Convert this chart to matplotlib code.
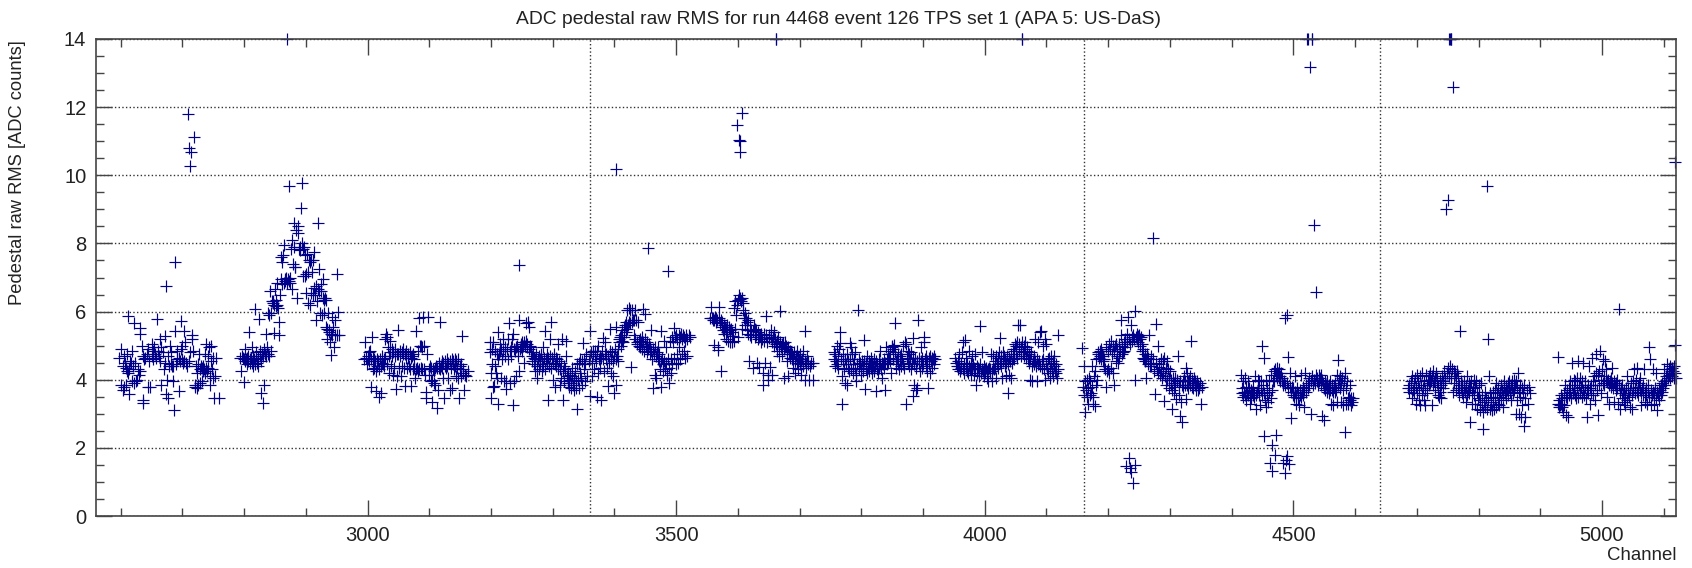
import matplotlib
matplotlib.use('Agg')
import matplotlib.pyplot as plt

plt.rcParams['font.family'] = ['Liberation Sans', 'DejaVu Sans']

# points, one list per block of channels (channel, rms)
block1 = [(2598,4.65),(2600,4.9),(2601,3.85),(2603,4.4),(2604,3.7),(2605,3.8),(2606,4.7),(2607,4.5),(2608,3.85),(2609,4.35),
 (2610,4.75),(2611,4.25),(2612,4.2),(2612,5.86),(2613,4.3),(2614,3.58),(2615,4.55),(2617,4.5),(2618,3.95),(2619,4.85),
 (2620,4.4),(2621,5.66),(2621,3.9),(2623,4.5),(2624,3.95),(2626,4.0),(2628,4.3),(2630,4.15),(2631,5.34),(2632,5.52),
 (2632,4.25),(2634,5.0),(2636,3.39),(2636,3.32),(2636,4.7),(2638,4.6),(2640,4.65),(2642,4.75),(2644,3.8),(2645,4.9),
 (2646,4.55),(2648,3.8),(2650,4.7),(2651,5.05),(2652,4.85),(2653,4.6),(2654,4.95),(2656,4.75),(2658,4.65),(2659,5.77),
 (2660,4.85),(2662,4.7),(2663,5.2),(2664,4.55),(2665,3.85),(2666,4.95),(2668,4.8),(2670,4.3),(2671,5.28),(2672,4.5),
 (2673,6.76),(2674,3.58),(2675,4.0),(2676,4.7),(2677,3.45),(2678,4.4),(2680,5.0),(2681,4.45),(2682,4.8),(2683,4.4),
 (2684,3.95),(2685,4.4),(2687,3.11),(2688,5.44),(2688,7.45),(2689,4.45),(2691,4.6),(2692,4.85),(2694,3.66),(2695,4.65),
 (2696,4.55),(2698,5.73),(2698,4.9),(2699,4.6),(2700,5.0),(2701,4.5),(2702,5.42),(2703,4.55),(2705,5.1),(2706,4.5),
 (2708,4.4),(2709,11.79),(2710,4.55),(2711,10.8),(2712,4.8),(2713,10.27),(2714,10.68),(2715,5.2),(2716,5.3),(2717,4.85),
 (2719,11.11),(2720,3.8),(2721,3.85),(2722,4.4),(2723,3.75),(2724,4.2),(2725,3.85),(2726,4.45),(2727,4.75),(2728,3.9),
 (2729,4.3),(2730,4.4),(2731,3.95),(2732,4.35),(2733,4.25),(2734,4.4),(2735,4.3),(2736,4.75),(2737,4.2),(2738,4.35),
 (2739,5.05),(2740,4.25),(2741,4.7),(2742,4.35),(2743,4.95),(2744,4.1),(2745,3.85),(2746,4.55),(2747,5.0),(2748,4.3),
 (2749,4.05),(2750,4.65),(2751,3.47),(2752,4.1),(2754,4.65),(2759,3.47)]

block2 = [(2793,4.65),(2795,4.25),(2797,4.7),(2798,4.65),(2799,3.94),(2800,4.6),(2801,4.55),(2802,4.9),(2803,4.6),(2804,4.65),
 (2805,4.45),(2806,4.7),(2807,4.55),(2808,5.4),(2809,4.6),(2810,4.5),(2811,4.65),(2812,4.95),(2813,4.5),(2814,4.7),
 (2815,4.4),(2816,4.6),(2817,4.45),(2818,6.07),(2819,4.7),(2820,4.8),(2821,4.5),(2822,4.65),(2823,4.4),(2824,5.78),
 (2825,4.85),(2826,4.7),(2827,4.55),(2828,3.6),(2829,4.75),(2830,4.7),(2831,3.32),(2832,4.9),(2833,3.85),(2834,4.75),
 (2835,5.33),(2836,4.7),(2837,4.95),(2838,4.75),(2839,5.95),(2840,4.7),(2841,5.9),(2842,6.6),(2843,5.95),(2844,4.85),
 (2845,6.3),(2846,6.25),(2847,6.3),(2848,6.2),(2849,5.38),(2850,6.65),(2851,6.15),(2852,6.35),(2853,6.2),(2854,6.85),
 (2855,6.1),(2856,5.7),(2857,5.3),(2858,6.5),(2859,7.6),(2860,6.95),(2861,7.45),(2862,6.8),(2863,7.65),(2864,6.85),
 (2865,7.95),(2866,6.95),(2867,6.9),(2868,7.0),(2869,6.85),(2870,14.0),(2871,6.95),(2872,6.9),(2873,9.68),(2874,7.0),
 (2875,6.85),(2876,7.85),(2877,8.1),(2878,6.65),(2879,7.4),(2880,7.9),(2881,8.6),(2882,7.3),(2883,7.3),(2884,8.4),
 (2885,6.4),(2887,8.5),(2888,8.3),(2889,7.85),(2890,7.9),(2891,7.8),(2892,9.05),(2893,9.78),(2894,8.0),(2895,7.05),
 (2896,7.85),(2897,7.9),(2898,7.65),(2899,7.05),(2900,6.55),(2901,7.1),(2902,7.7),(2903,6.25),(2904,7.15),(2905,7.5),
 (2906,6.2),(2907,7.45),(2908,7.5),(2909,6.55),(2910,7.15),(2911,6.5),(2912,7.5),(2913,6.7),(2914,7.75),(2915,6.5),
 (2916,5.75),(2917,6.75),(2918,6.3),(2919,8.6),(2920,6.65),(2921,7.25),(2922,6.6),(2923,5.95),(2924,6.8),(2925,6.6),
 (2926,5.9),(2927,6.4),(2928,6.95),(2929,6.35),(2930,5.95),(2931,6.4),(2932,5.55),(2933,6.35),(2934,5.2),(2935,5.5),
 (2936,5.95),(2937,5.45),(2938,5.4),(2939,5.1),(2940,5.35),(2941,4.72),(2942,5.85),(2943,5.3),(2944,5.55),(2945,4.95),
 (2947,5.3),(2948,5.75),(2950,5.3),(2951,7.1),(2952,5.98),(2954,5.3)]

block3 = [(2995,4.6),(2996,5.1),(2997,4.65),(2999,4.45),(3000,4.7),(3001,4.6),(3002,4.8),(3003,4.55),(3004,4.85),(3005,4.6),
 (3006,3.8),(3007,5.25),(3008,4.65),(3009,4.3),(3010,4.6),(3011,4.35),(3012,4.55),(3013,4.25),(3014,3.68),(3015,4.6),
 (3016,4.4),(3017,4.55),(3018,4.3),(3019,3.48),(3020,4.6),(3021,4.4),(3022,3.6),(3023,4.5),(3024,4.7),(3025,4.45),
 (3026,4.6),(3027,4.4),(3028,5.2),(3029,4.65),(3030,5.35),(3031,5.25),(3032,4.45),(3033,4.95),(3034,4.7),(3035,4.2),
 (3036,5.15),(3037,4.8),(3038,4.4),(3039,4.9),(3040,4.7),(3041,4.15),(3042,4.8),(3043,4.35),(3044,4.7),(3045,4.9),
 (3046,3.73),(3047,4.75),(3048,4.1),(3049,5.47),(3050,4.75),(3051,4.35),(3052,4.85),(3053,4.7),(3054,4.1),(3055,4.8),
 (3056,4.4),(3057,4.9),(3058,4.75),(3059,4.35),(3060,3.82),(3061,4.75),(3062,4.65),(3063,4.85),(3064,4.35),(3065,4.75),
 (3066,4.65),(3067,4.4),(3068,4.8),(3069,4.3),(3070,4.65),(3071,3.82),(3072,4.7),(3073,4.3),(3074,4.75),(3075,4.35),
 (3076,4.6),(3077,4.05),(3078,4.3),(3079,5.42),(3080,4.35),(3081,4.25),(3082,4.85),(3083,5.8),(3084,4.3),(3085,5.0),
 (3086,4.35),(3087,5.0),(3088,4.3),(3089,4.95),(3090,5.84),(3091,4.3),(3092,5.0),(3093,4.15),(3094,3.64),(3094,3.46),
 (3096,4.75),(3098,5.84),(3099,4.3),(3100,4.15),(3101,4.4),(3102,3.95),(3103,4.35),(3104,4.0),(3105,3.35),(3106,4.3),
 (3107,3.9),(3108,4.25),(3109,4.35),(3110,3.85),(3111,4.4),(3112,3.16),(3113,4.35),(3114,3.7),(3115,4.35),(3116,4.5),
 (3117,4.3),(3118,5.69),(3119,4.4),(3120,4.55),(3121,4.35),(3122,4.05),(3123,4.5),(3124,3.45),(3125,4.4),(3126,4.55),
 (3127,4.35),(3128,4.6),(3129,4.4),(3130,4.05),(3131,4.5),(3133,3.69),(3134,4.55),(3135,4.35),(3136,3.75),(3137,4.6),
 (3138,4.45),(3139,4.55),(3140,4.3),(3141,4.6),(3142,4.4),(3143,4.1),(3144,4.55),(3145,4.35),(3146,4.6),(3147,4.05),
 (3148,3.47),(3149,4.3),(3150,4.4),(3151,4.1),(3152,4.45),(3153,5.28),(3154,4.2),(3155,4.3),(3157,3.69),(3158,4.15),
 (3160,4.1),(3162,4.25)]

block4 = [(3198,5.1),(3199,4.8),(3200,4.2),(3200,3.45),(3201,4.9),(3202,4.45),(3203,3.8),(3204,5.1),(3205,3.82),(3206,4.4),
 (3207,4.85),(3208,4.2),(3209,4.05),(3210,4.75),(3211,5.4),(3211,3.3),(3212,4.6),(3213,4.75),(3214,5.05),(3215,4.85),
 (3216,4.05),(3217,4.9),(3218,4.6),(3219,5.2),(3220,4.85),(3221,3.95),(3222,4.95),(3223,4.7),(3224,3.95),(3225,3.74),
 (3226,4.9),(3227,4.6),(3228,5.2),(3229,5.65),(3230,4.85),(3231,3.9),(3232,4.95),(3233,4.7),(3234,5.2),(3236,5.33),
 (3236,3.26),(3237,4.9),(3238,3.95),(3239,4.85),(3240,4.1),(3241,4.95),(3242,5.0),(3243,4.7),(3244,4.85),(3245,4.25),
 (3246,7.37),(3246,5.76),(3247,4.9),(3248,5.05),(3249,4.95),(3250,5.1),(3251,4.85),(3252,5.0),(3253,4.5),(3254,5.1),
 (3255,5.0),(3256,5.65),(3257,5.15),(3258,4.95),(3259,5.05),(3260,5.69),(3261,4.9),(3262,5.55),(3263,5.0),(3264,4.8),
 (3265,4.95),(3266,4.7),(3267,4.55),(3268,4.8),(3269,4.45),(3270,4.65),(3271,4.25),(3272,4.6),(3273,4.75),(3274,4.4),
 (3275,4.05),(3276,4.6),(3277,4.3),(3278,4.7),(3279,4.45),(3280,4.6),(3281,4.75),(3282,4.25),(3283,4.55),(3284,4.95),
 (3285,4.4),(3286,4.65),(3287,5.44),(3288,4.3),(3289,4.6),(3290,4.75),(3291,4.5),(3292,3.4),(3293,4.65),(3294,4.4),
 (3295,5.2),(3296,4.7),(3297,4.35),(3298,5.7),(3299,4.65),(3300,4.5),(3301,4.0),(3302,4.75),(3303,4.45),(3304,3.8),
 (3305,4.65),(3306,4.4),(3307,4.6),(3308,5.05),(3309,4.3),(3310,4.55),(3311,3.85),(3312,4.3),(3313,4.5),(3314,4.05),
 (3315,5.2),(3316,4.25),(3317,3.4),(3318,4.4),(3319,3.95),(3320,4.3),(3321,4.7),(3322,5.13),(3323,4.1),(3324,3.9),
 (3325,4.2),(3326,4.0),(3327,3.8),(3328,4.15),(3329,3.9),(3330,3.75),(3331,4.1),(3332,4.35),(3333,3.85),(3334,4.05),
 (3335,3.7),(3336,4.25),(3337,3.95),(3338,3.75),(3339,4.45),(3340,3.14),(3341,4.0),(3342,4.5),(3343,3.75),(3344,4.2),
 (3345,4.6),(3346,4.05),(3347,4.55),(3348,3.85),(3349,5.07),(3350,4.3),(3351,4.6),(3352,3.95),(3353,4.45),(3354,4.75),
 (3356,4.1),(3358,4.55)]

block5 = [(3360,4.7),(3361,5.42),(3361,3.53),(3362,4.8),(3363,4.5),(3364,4.1),(3365,4.75),(3366,4.85),(3367,4.3),(3368,4.7),
 (3369,4.85),(3370,4.55),(3371,3.48),(3372,4.85),(3373,4.2),(3374,5.0),(3375,4.6),(3376,4.7),(3377,4.35),(3378,3.4),
 (3379,4.65),(3380,4.85),(3381,5.23),(3382,4.6),(3383,4.25),(3384,4.75),(3385,5.1),(3386,4.6),(3387,4.75),(3388,4.35),
 (3389,3.82),(3390,4.7),(3391,4.5),(3392,5.5),(3393,4.85),(3394,4.2),(3395,4.6),(3396,4.8),(3397,4.1),(3398,4.55),
 (3399,4.7),(3400,3.6),(3401,4.9),(3402,4.6),(3403,10.17),(3403,5.55),(3403,3.85),(3404,4.7),(3405,4.55),(3406,4.9),
 (3407,5.2),(3408,5.1),(3409,5.25),(3410,5.0),(3411,5.3),(3412,5.15),(3413,5.45),(3414,5.1),(3415,5.55),(3416,5.25),
 (3417,5.6),(3418,5.4),(3419,5.7),(3420,5.5),(3421,6.05),(3422,5.6),(3423,6.1),(3424,5.7),(3425,6.05),(3426,5.65),
 (3427,4.36),(3428,6.05),(3429,5.7),(3430,5.75),(3431,5.3),(3432,5.75),(3433,6.05),(3434,5.2),(3435,5.75),(3436,5.1),
 (3437,5.05),(3438,5.7),(3439,5.15),(3440,5.0),(3441,5.2),(3442,4.95),(3443,5.1),(3444,5.25),(3445,4.9),(3446,6.08),
 (3447,5.1),(3448,4.85),(3449,5.92),(3450,5.2),(3451,5.0),(3452,4.8),(3453,5.1),(3454,7.87),(3455,4.9),(3456,5.05),
 (3457,4.75),(3458,4.95),(3459,4.85),(3460,5.47),(3461,4.6),(3462,3.77),(3463,4.9),(3464,4.75),(3465,4.15),(3466,4.95),
 (3467,4.7),(3468,4.05),(3469,4.8),(3470,4.6),(3471,4.95),(3472,4.55),(3473,4.75),(3474,4.3),(3475,4.55),(3476,5.44),
 (3476,3.8),(3477,4.65),(3478,4.45),(3479,4.25),(3480,5.15),(3481,4.55),(3482,4.3),(3483,4.95),(3484,4.5),(3485,4.15),
 (3486,7.2),(3487,4.6),(3488,4.35),(3489,3.9),(3490,5.15),(3491,4.6),(3492,4.2),(3493,5.25),(3494,4.45),(3495,5.1),
 (3496,4.65),(3497,5.52),(3498,5.25),(3499,4.45),(3500,5.3),(3501,4.75),(3502,5.2),(3503,4.5),(3504,5.3),(3505,4.95),
 (3506,5.25),(3507,4.6),(3508,5.35),(3509,4.75),(3510,5.2),(3511,5.3),(3512,4.85),(3513,5.25),(3514,5.15),(3515,4.65),
 (3516,5.3),(3517,5.2),(3518,4.7),(3520,5.3),(3522,5.25)]

block6 = [(3555,5.8),(3557,6.13),(3558,5.8),(3559,5.75),(3560,5.8),(3561,5.02),(3562,5.75),(3563,5.85),(3564,5.7),(3565,5.8),
 (3566,5.75),(3567,4.95),(3568,4.86),(3569,6.13),(3570,5.8),(3571,5.65),(3572,5.75),(3573,4.27),(3574,5.55),(3575,5.7),
 (3576,5.45),(3577,5.6),(3578,5.35),(3579,5.55),(3580,5.2),(3581,5.5),(3582,5.6),(3583,5.4),(3584,5.15),(3585,5.5),
 (3586,5.55),(3587,5.1),(3588,5.45),(3589,5.5),(3590,5.1),(3591,5.4),(3592,5.28),(3593,6.1),(3594,5.15),(3595,6.3),
 (3596,5.5),(3597,5.9),(3598,11.48),(3599,6.2),(3600,5.25),(3601,6.35),(3602,6.5),(3602,11.05),(3603,6.37),(3603,11.0),
 (3604,10.68),(3604,6.4),(3605,6.3),(3606,6.4),(3607,11.82),(3607,5.5),(3608,6.25),(3609,6.05),(3610,5.8),(3611,5.95),
 (3612,5.6),(3613,5.8),(3614,5.45),(3615,5.7),(3616,5.35),(3617,5.75),(3618,4.55),(3619,5.6),(3620,5.3),(3621,5.45),
 (3622,5.25),(3624,5.44),(3625,4.35),(3626,5.6),(3627,5.25),(3628,5.5),(3629,5.3),(3630,5.45),(3631,4.5),(3632,5.2),
 (3633,5.4),(3634,5.25),(3635,4.38),(3636,5.3),(3637,5.1),(3638,5.35),(3639,5.2),(3640,4.2),(3641,3.85),(3642,5.35),
 (3643,5.15),(3644,4.5),(3645,5.3),(3646,5.87),(3647,5.1),(3648,4.15),(3649,4.0),(3650,5.3),(3651,5.23),(3652,4.38),
 (3653,5.25),(3654,5.45),(3655,5.1),(3656,4.15),(3657,5.25),(3658,5.4),(3659,5.0),(3660,5.2),(3661,14.0),(3662,5.05),
 (3663,4.85),(3664,5.15),(3665,5.25),(3666,4.95),(3667,4.7),(3668,6.03),(3669,5.1),(3670,4.95),(3671,5.05),(3672,4.75),
 (3673,5.07),(3674,4.9),(3675,4.05),(3676,5.1),(3677,4.95),(3678,5.0),(3679,4.85),(3680,4.55),(3681,4.11),(3682,4.95),
 (3683,4.75),(3684,4.85),(3685,4.65),(3686,4.8),(3687,4.6),(3688,4.75),(3689,4.35),(3690,4.65),(3691,4.8),(3692,4.55),
 (3693,4.2),(3694,4.7),(3695,4.85),(3696,4.5),(3697,4.65),(3698,4.3),(3699,4.6),(3700,4.75),(3701,4.45),(3702,4.55),
 (3703,4.15),(3704,4.6),(3705,4.4),(3706,4.85),(3708,5.44),(3708,4.0),(3709,4.55),(3710,4.35),(3711,4.5),(3712,4.7),
 (3713,4.45),(3714,4.55),(3716,4.0),(3717,4.4),(3719,4.5),(3721,4.0),(3722,4.5)]

block7 = [(3755,4.6),(3756,4.8),(3757,4.4),(3758,4.75),(3759,4.55),(3760,5.0),(3761,4.45),(3762,4.7),(3763,4.35),(3764,4.9),
 (3765,5.07),(3766,5.39),(3767,4.6),(3768,4.1),(3769,3.3),(3770,4.55),(3771,4.75),(3772,4.3),(3773,3.9),(3774,4.6),
 (3775,4.45),(3776,3.85),(3777,4.75),(3778,4.35),(3779,4.55),(3780,4.25),(3781,5.07),(3782,4.6),(3783,4.95),(3784,4.3),
 (3785,4.75),(3786,4.45),(3787,4.2),(3788,4.6),(3789,4.35),(3790,4.8),(3791,4.15),(3792,3.95),(3793,4.45),(3795,6.05),
 (3796,4.6),(3797,4.3),(3798,4.5),(3799,4.15),(3800,4.35),(3801,4.55),(3802,4.25),(3803,4.4),(3804,5.18),(3805,4.55),
 (3806,3.74),(3807,4.3),(3808,4.5),(3809,4.2),(3810,4.7),(3811,4.35),(3812,4.55),(3813,4.25),(3814,4.45),(3815,4.65),
 (3816,4.35),(3817,4.5),(3818,4.2),(3819,4.4),(3820,4.6),(3821,4.25),(3822,4.4),(3823,4.55),(3824,3.66),(3825,4.3),
 (3826,4.45),(3827,4.2),(3828,4.6),(3829,4.35),(3830,4.45),(3831,4.85),(3832,4.3),(3833,4.5),(3834,4.05),(3835,4.45),
 (3836,4.6),(3837,4.35),(3838,3.69),(3839,4.5),(3840,4.95),(3841,4.45),(3842,4.6),(3843,4.75),(3844,4.5),(3845,4.65),
 (3846,4.85),(3847,4.55),(3848,4.2),(3849,4.95),(3850,5.0),(3851,4.6),(3852,4.9),(3853,5.02),(3854,5.66),(3855,4.8),
 (3856,4.55),(3857,4.35),(3858,4.6),(3859,4.75),(3860,4.45),(3861,4.3),(3862,4.7),(3863,4.55),(3864,4.4),(3865,4.75),
 (3866,4.6),(3867,4.45),(3868,5.0),(3869,4.35),(3870,5.12),(3872,3.3),(3873,5.05),(3874,4.65),(3875,4.85),(3876,4.5),
 (3877,4.75),(3878,4.4),(3879,4.6),(3880,4.3),(3881,4.8),(3882,4.5),(3883,4.65),(3884,5.23),(3884,3.53),(3885,4.45),
 (3886,3.85),(3887,4.65),(3888,3.7),(3889,4.35),(3890,4.55),(3891,3.75),(3892,5.76),(3893,4.45),(3894,4.65),(3895,4.25),
 (3896,4.55),(3897,4.95),(3898,4.35),(3899,4.65),(3900,4.45),(3901,5.1),(3902,5.26),(3903,4.6),(3904,4.4),(3905,4.7),
 (3906,4.25),(3907,4.55),(3908,3.76),(3909,4.65),(3910,4.45),(3911,4.7),(3912,4.2),(3913,4.55),(3914,4.65),(3915,4.35),
 (3916,4.6),(3917,4.7),(3918,4.45),(3920,4.6)]

block8 = [(3952,4.65),(3954,4.5),(3955,4.4),(3956,4.55),(3957,4.3),(3958,4.75),(3959,4.4),(3960,4.25),(3961,4.5),(3962,4.35),
 (3963,4.8),(3964,4.3),(3965,5.12),(3966,4.45),(3967,4.2),(3968,5.18),(3969,4.35),(3970,4.65),(3971,4.25),(3972,4.5),
 (3973,4.2),(3974,4.4),(3975,4.85),(3976,4.3),(3977,4.15),(3978,4.5),(3979,4.7),(3980,4.3),(3981,4.45),(3982,4.15),
 (3983,4.35),(3984,4.75),(3985,4.3),(3986,3.85),(3987,4.4),(3988,4.2),(3989,4.35),(3990,4.1),(3991,4.3),(3992,5.58),
 (3993,4.45),(3994,4.2),(3995,4.3),(3996,4.8),(3997,4.25),(3998,4.4),(3999,4.1),(4000,4.3),(4001,4.2),(4002,4.35),
 (4003,4.05),(4004,4.25),(4005,4.3),(4006,3.95),(4007,4.35),(4008,4.2),(4009,4.3),(4010,4.75),(4011,4.25),(4012,3.95),
 (4013,4.35),(4014,4.7),(4015,4.3),(4016,4.55),(4017,4.35),(4018,4.05),(4019,4.7),(4020,4.45),(4021,4.65),(4022,4.35),
 (4023,4.8),(4024,5.22),(4025,4.5),(4026,4.7),(4027,4.4),(4028,4.05),(4029,4.8),(4030,4.55),(4031,4.7),(4032,4.4),
 (4033,4.6),(4034,4.1),(4035,4.5),(4036,4.7),(4037,3.61),(4038,4.45),(4039,4.65),(4040,4.15),(4041,4.55),(4042,4.75),
 (4043,4.05),(4044,4.5),(4045,4.9),(4046,4.65),(4047,4.85),(4048,4.6),(4049,5.05),(4050,4.75),(4051,5.0),(4052,4.65),
 (4053,5.1),(4054,5.6),(4055,4.85),(4056,5.05),(4057,5.62),(4058,4.7),(4059,4.95),(4060,14.0),(4061,5.1),(4062,4.8),
 (4063,5.0),(4064,4.7),(4065,4.9),(4066,5.1),(4067,4.65),(4068,4.85),(4069,4.95),(4070,4.6),(4071,4.75),(4072,4.5),
 (4073,4.0),(4074,4.6),(4075,4.8),(4076,4.4),(4077,3.95),(4078,4.55),(4079,4.7),(4080,4.45),(4081,5.2),(4082,4.55),
 (4083,4.4),(4084,3.95),(4085,4.6),(4086,4.45),(4087,5.1),(4088,4.55),(4089,5.39),(4090,4.4),(4091,5.42),(4092,4.55),
 (4093,4.35),(4094,5.0),(4095,4.6),(4096,4.3),(4097,4.0),(4098,5.2),(4099,4.45),(4100,5.05),(4101,4.3),(4102,4.6),
 (4103,4.2),(4104,4.65),(4105,4.35),(4106,4.05),(4107,4.5),(4108,4.7),(4109,4.25),(4110,4.55),(4111,4.1),(4112,4.4),
 (4113,4.7),(4114,4.25),(4115,4.45),(4116,4.2),(4117,4.05),(4118,5.3),(4119,4.3)]

block9 = [(4158,4.93),(4159,3.8),(4160,4.4),(4161,3.55),(4162,3.05),(4163,3.95),(4164,3.7),(4165,4.0),(4166,3.5),(4167,3.3),
 (4168,3.75),(4169,4.05),(4170,3.55),(4171,3.95),(4172,3.6),(4173,3.8),(4174,4.4),(4175,3.5),(4176,3.3),(4177,4.1),
 (4178,3.23),(4179,4.25),(4180,3.85),(4181,4.6),(4182,4.0),(4183,4.8),(4184,4.75),(4185,4.65),(4186,4.7),(4187,4.85),
 (4188,4.6),(4189,4.9),(4190,4.75),(4191,4.55),(4192,4.7),(4193,4.4),(4194,4.6),(4195,4.3),(4196,4.95),(4197,3.8),
 (4198,4.25),(4199,4.85),(4200,4.3),(4201,5.05),(4202,4.2),(4203,4.9),(4204,4.35),(4205,5.15),(4206,4.75),(4207,5.0),
 (4208,4.2),(4209,3.85),(4210,4.85),(4211,5.0),(4212,4.55),(4213,5.05),(4214,4.7),(4215,4.9),(4216,4.5),(4217,5.05),
 (4218,4.65),(4219,4.85),(4220,5.3),(4221,5.74),(4222,4.75),(4223,5.0),(4224,4.8),(4225,5.1),(4226,4.85),(4227,5.2),
 (4228,4.95),(4229,1.46),(4230,5.1),(4231,5.35),(4232,5.84),(4233,1.7),(4234,5.2),(4235,5.05),(4236,1.4),(4237,1.3),
 (4237,5.6),(4238,5.25),(4239,5.15),(4240,0.96),(4241,5.3),(4242,5.2),(4243,1.49),(4244,6.03),(4244,4.0),(4245,5.25),
 (4246,5.35),(4247,5.2),(4248,5.28),(4249,5.1),(4250,5.3),(4251,5.2),(4252,5.0),(4253,5.25),(4254,4.85),(4255,5.05),
 (4256,4.65),(4257,4.9),(4258,4.6),(4259,4.75),(4260,4.55),(4261,4.05),(4262,4.6),(4263,4.75),(4264,4.45),(4265,4.65),
 (4266,5.3),(4267,4.5),(4268,4.4),(4269,4.7),(4270,4.4),(4272,8.17),(4273,4.6),(4274,4.25),(4276,3.58),(4277,5.63),
 (4278,4.5),(4279,4.3),(4280,5.0),(4281,4.2),(4282,4.45),(4283,4.38),(4284,4.15),(4285,4.6),(4286,4.25),(4287,4.05),
 (4288,4.55),(4289,4.2),(4290,4.65),(4291,3.37),(4292,4.1),(4293,4.35),(4294,3.85),(4295,4.55),(4296,4.0),(4297,4.3),
 (4298,3.75),(4299,4.05),(4300,4.25),(4301,3.85),(4302,4.0),(4303,3.7),(4304,3.13),(4305,4.05),(4306,3.9),(4307,3.6),
 (4308,4.05),(4309,3.8),(4310,3.42),(4311,3.95),(4312,4.0),(4313,4.7),(4314,3.85),(4315,3.55),(4316,2.94),(4317,3.95),
 (4318,3.35),(4319,3.85),(4320,2.75),(4321,3.95),(4322,3.8),(4323,4.1),(4324,3.85),(4325,3.95),(4326,4.33),(4326,3.44),
 (4327,3.85),(4328,4.2),(4329,3.95),(4330,3.75),(4331,4.0),(4332,3.85),(4333,4.1),(4334,5.15),(4335,3.8),(4336,4.0),
 (4337,3.9),(4338,3.75),(4339,4.05),(4340,3.85),(4341,3.95),(4342,3.7),(4343,3.85),(4344,3.95),(4345,3.7),(4346,3.85),
 (4347,3.75),(4348,3.9),(4351,3.28),(4352,3.8)]

block10 = [(4415,4.15),(4416,3.75),(4417,3.6),(4418,3.95),(4419,3.5),(4420,3.65),(4421,4.05),(4422,3.55),(4423,3.8),(4424,3.4),
 (4425,3.6),(4426,3.95),(4427,3.55),(4428,3.75),(4429,3.3),(4430,3.55),(4431,3.7),(4432,3.45),(4433,3.65),(4434,3.55),
 (4435,3.8),(4436,3.6),(4437,3.5),(4438,4.1),(4439,3.55),(4440,3.15),(4441,3.65),(4442,4.0),(4443,3.75),(4444,3.55),
 (4445,3.95),(4446,3.25),(4447,3.7),(4448,3.95),(4449,3.55),(4450,4.98),(4451,3.85),(4452,2.34),(4452,4.63),(4453,3.6),
 (4454,3.4),(4455,3.95),(4456,3.2),(4457,3.55),(4458,3.75),(4459,3.35),(4460,3.65),(4461,4.0),(4462,1.56),(4463,3.45),
 (4464,4.15),(4465,3.7),(4466,2.07),(4466,1.32),(4467,3.95),(4468,4.25),(4469,3.95),(4470,1.78),(4471,4.3),(4472,2.39),
 (4472,4.15),(4473,4.05),(4474,4.35),(4475,4.2),(4476,4.05),(4477,4.3),(4478,4.1),(4479,3.95),(4480,4.2),(4481,4.05),
 (4482,3.95),(4483,1.56),(4484,3.85),(4485,3.95),(4486,1.25),(4486,5.8),(4487,3.85),(4488,1.65),(4489,1.76),(4489,3.9),
 (4490,5.9),(4491,3.75),(4492,4.68),(4493,1.54),(4494,3.8),(4495,4.2),(4496,3.65),(4497,2.88),(4498,3.8),(4499,3.55),
 (4500,3.75),(4501,3.5),(4502,4.1),(4503,3.65),(4504,3.3),(4505,3.55),(4506,3.75),(4507,3.45),(4508,3.6),(4509,3.25),
 (4510,3.55),(4511,3.7),(4512,4.15),(4513,3.5),(4514,3.65),(4515,3.8),(4516,3.55),(4517,3.2),(4518,3.7),(4519,4.2),
 (4520,3.85),(4521,3.65),(4522,14.0),(4523,3.9),(4524,3.75),(4525,4.05),(4526,3.85),(4527,13.17),(4528,3.0),(4529,3.95),
 (4530,14.0),(4531,4.1),(4532,3.85),(4533,4.0),(4534,8.54),(4535,3.9),(4536,4.15),(4537,6.57),(4538,3.95),(4539,4.05),
 (4540,3.85),(4541,4.15),(4542,3.95),(4543,4.05),(4544,4.15),(4545,3.85),(4546,2.93),(4547,4.0),(4548,3.9),(4549,2.83),
 (4550,3.75),(4551,3.95),(4552,3.7),(4553,3.85),(4554,3.65),(4555,3.95),(4556,3.75),(4557,3.6),(4558,3.85),(4559,3.7),
 (4560,3.95),(4561,3.3),(4562,3.7),(4563,3.85),(4564,3.65),(4565,3.25),(4566,3.8),(4567,3.65),(4568,3.9),(4569,3.7),
 (4570,3.35),(4571,4.15),(4572,4.57),(4573,3.85),(4574,4.0),(4575,3.75),(4576,4.1),(4577,3.35),(4578,3.9),(4579,4.05),
 (4580,3.7),(4581,3.25),(4582,3.95),(4583,4.2),(4584,2.47),(4585,3.75),(4586,3.3),(4587,3.95),(4588,3.45),(4589,3.3),
 (4590,3.5),(4591,3.85),(4592,3.4),(4593,3.25),(4594,3.45),(4595,3.35),(4597,3.45)]

block11 = [(4685,3.75),(4687,3.85),(4688,3.65),(4690,3.95),(4691,3.75),(4692,3.45),(4693,4.1),(4694,3.7),(4695,3.9),(4696,3.6),
 (4697,4.05),(4698,3.3),(4699,3.8),(4700,4.15),(4701,3.6),(4702,3.95),(4703,3.4),(4704,3.75),(4705,4.1),(4706,3.25),
 (4707,3.85),(4708,3.55),(4709,4.2),(4710,3.75),(4711,3.4),(4712,3.95),(4713,3.25),(4714,3.7),(4715,4.15),(4716,3.85),
 (4717,3.6),(4718,4.0),(4719,4.1),(4720,3.85),(4721,4.2),(4722,3.9),(4723,3.95),(4724,3.25),(4725,4.1),(4726,3.85),
 (4727,4.25),(4728,3.95),(4729,4.05),(4730,3.7),(4731,4.2),(4732,3.9),(4733,4.05),(4734,3.55),(4735,3.8),(4736,3.5),
 (4737,4.0),(4738,3.65),(4739,3.45),(4740,3.85),(4741,4.1),(4742,3.75),(4743,3.95),(4744,4.25),(4745,3.9),(4746,4.05),
 (4748,9.0),(4749,4.2),(4750,9.27),(4751,4.35),(4752,4.1),(4753,14.0),(4754,4.4),(4755,14.0),(4756,4.05),(4757,4.3),
 (4758,12.6),(4759,3.65),(4760,4.25),(4761,3.9),(4762,4.2),(4763,3.7),(4764,4.05),(4765,4.25),(4766,3.75),(4767,4.1),
 (4768,3.85),(4769,3.55),(4770,5.42),(4771,3.75),(4772,3.95),(4773,3.6),(4774,3.85),(4775,3.5),(4776,3.75),(4777,3.95),
 (4778,3.65),(4779,3.35),(4780,3.8),(4781,3.55),(4782,4.1),(4783,3.7),(4784,3.9),(4785,3.6),(4786,2.75),(4787,3.8),
 (4788,3.95),(4789,3.65),(4790,3.3),(4791,3.75),(4792,4.0),(4793,3.55),(4794,3.8),(4795,3.3),(4796,3.95),(4797,3.65),
 (4798,3.15),(4799,3.45),(4800,3.85),(4801,3.55),(4802,3.1),(4803,3.4),(4804,3.9),(4805,3.25),(4806,3.55),(4807,3.05),
 (4808,2.55),(4809,3.35),(4810,3.65),(4811,3.2),(4812,3.45),(4813,9.68),(4814,3.15),(4815,5.2),(4816,3.4),(4817,4.1),
 (4818,3.15),(4819,3.6),(4820,3.25),(4821,3.5),(4822,3.1),(4823,3.65),(4824,3.35),(4825,3.15),(4826,3.7),(4827,3.45),
 (4828,3.9),(4829,3.2),(4830,3.6),(4831,3.3),(4832,3.75),(4833,3.5),(4834,3.25),(4835,3.65),(4836,3.85),(4837,3.4),
 (4838,3.7),(4839,3.55),(4840,3.2),(4841,3.75),(4842,3.95),(4843,3.6),(4844,3.8),(4845,3.45),(4846,3.7),(4847,3.9),
 (4848,3.55),(4849,3.8),(4850,3.95),(4851,3.65),(4852,3.85),(4853,3.4),(4854,3.75),(4855,3.95),(4856,3.6),(4857,4.0),
 (4858,3.7),(4859,3.85),(4860,3.95),(4861,3.0),(4862,3.8),(4863,3.4),(4864,4.2),(4865,3.65),(4866,3.0),(4867,3.85),
 (4868,3.5),(4869,2.9),(4870,3.75),(4871,3.25),(4872,3.6),(4873,2.65),(4874,3.85),(4875,3.45),(4876,2.9),(4878,3.7),
 (4880,3.3),(4882,3.8),(4884,3.6)]

block12 = [(4928,4.68),(4929,3.3),(4930,3.2),(4931,3.4),(4932,3.25),(4933,3.55),(4934,3.3),(4935,3.2),(4936,3.45),(4937,3.05),
 (4938,3.6),(4939,3.25),(4940,3.85),(4941,3.5),(4942,2.95),(4943,3.7),(4944,3.45),(4945,2.92),(4946,3.75),(4947,3.55),
 (4948,3.95),(4949,3.65),(4950,3.45),(4951,4.5),(4952,3.85),(4953,3.6),(4954,4.0),(4955,3.7),(4956,3.95),(4957,3.55),
 (4958,3.45),(4959,4.05),(4960,3.75),(4961,4.55),(4962,3.5),(4963,3.85),(4964,4.05),(4965,3.6),(4966,3.8),(4967,3.5),
 (4968,3.95),(4969,3.7),(4970,4.5),(4971,3.55),(4972,3.8),(4973,3.95),(4974,3.45),(4975,3.7),(4976,2.92),(4977,3.85),
 (4978,3.6),(4979,4.4),(4980,3.75),(4981,3.3),(4982,3.6),(4983,3.85),(4984,4.65),(4985,3.55),(4986,3.95),(4987,4.1),
 (4988,3.4),(4989,3.85),(4990,4.75),(4991,4.2),(4992,3.7),(4993,4.15),(4994,2.95),(4995,4.25),(4996,3.85),(4997,4.85),
 (4998,4.0),(4999,3.6),(5000,4.3),(5001,3.9),(5002,4.6),(5003,4.1),(5004,3.85),(5005,4.55),(5006,4.0),(5007,4.3),
 (5008,3.5),(5009,3.95),(5010,4.0),(5011,3.85),(5012,3.3),(5013,3.95),(5014,4.05),(5015,3.8),(5016,4.35),(5017,3.9),
 (5018,3.75),(5019,3.35),(5020,3.95),(5021,3.85),(5022,3.7),(5023,3.9),(5024,4.0),(5025,3.75),(5026,3.3),(5027,6.08),
 (5028,3.85),(5029,3.6),(5030,3.15),(5031,3.75),(5032,3.45),(5033,3.85),(5034,3.6),(5035,3.35),(5036,3.7),(5037,3.25),
 (5038,3.55),(5039,3.75),(5040,3.4),(5041,4.1),(5042,3.6),(5043,3.75),(5044,3.5),(5045,3.2),(5046,3.7),(5047,3.9),
 (5048,3.55),(5049,3.15),(5050,3.7),(5051,3.95),(5052,4.3),(5053,3.6),(5054,3.75),(5055,4.0),(5056,3.65),(5057,4.35),
 (5058,3.8),(5059,3.55),(5060,3.9),(5061,3.7),(5062,4.05),(5063,3.6),(5064,3.25),(5065,3.75),(5066,3.55),(5067,3.85),
 (5068,4.3),(5069,3.65),(5070,3.35),(5071,3.55),(5072,3.75),(5073,3.3),(5074,3.65),(5075,3.85),(5076,4.97),(5077,3.5),
 (5078,4.6),(5079,3.7),(5080,3.25),(5081,3.55),(5082,3.65),(5083,4.3),(5084,3.3),(5085,3.6),(5086,3.75),(5087,3.45),
 (5088,4.2),(5089,3.65),(5090,3.1),(5091,3.55),(5092,3.75),(5093,3.4),(5094,3.7),(5095,3.55),(5096,3.85),(5097,3.65),
 (5098,3.9),(5099,3.75),(5100,4.3),(5101,3.95),(5102,3.85),(5103,4.1),(5104,3.95),(5105,4.2),(5106,4.45),(5107,4.05),
 (5108,4.3),(5109,4.15),(5110,4.4),(5111,4.05),(5112,4.25),(5113,4.35),(5114,4.1),(5115,4.25),(5116,4.4),(5117,4.05),
 (5118,5.03),(5118,10.4),(5119,4.2),(5120,4.05)]

# channels stuck at the top of the scale, these show as bold stubs
top_hits = [(3662,14.0),(4061,14.0),(4523,14.0),(4531,14.0),(4754,14.0),(4756,14.0)]

blocks = [block1, block2, block3, block4, block5, block6,
          block7, block8, block9, block10, block11, block12, top_hits]

x_ticks = [3000, 3500, 4000, 4500, 5000]
tpc_lines = [3360, 4160, 4640]

title = 'ADC pedestal raw RMS for run 4468 event 126 TPS set 1 (APA 5: US-DaS)'
frame_col = '#444444'
text_col = '#222222'

fig = plt.figure(figsize=(16.92, 5.68), dpi=100)
ax = fig.add_axes([96/1692, 1 - 516/568, 1580/1692, 477/568])

for b in blocks:
    ch = [p[0] for p in b]
    rms = [p[1] for p in b]
    ax.plot(ch, rms, ls='none', marker='+', ms=8, mew=0.85, color='#00008b', clip_on=False, zorder=2)

ax.set_xlim(2560, 5120)
ax.set_ylim(0, 14)
ax.set_xticks(x_ticks)
ax.set_xticks(range(2600, 5120, 100), minor=True)
ax.set_yticks(range(0, 15, 2))
ax.set_yticks([i*0.5 for i in range(29)], minor=True)

ax.tick_params(which='major', direction='in', top=True, right=True, length=11.5, width=1,
               color=frame_col, labelsize=14.5, labelcolor=text_col, pad=7)
ax.tick_params(which='minor', direction='in', top=True, right=True, length=5.5, width=1, color=frame_col)

ax.grid(which='major', axis='y', ls=':', lw=1, color='#333333')
for v in tpc_lines:
    ax.axvline(v, ls=':', lw=1, color='#333333')

for s in ax.spines.values():
    s.set_color(frame_col)
    s.set_linewidth(1.2)

fig.text(838/1692, 1 - 20/568, title, ha='center', va='center', fontsize=13.85, color=text_col)
fig.text(18/1692, 1 - 40/568, 'Pedestal raw RMS [ADC counts]', rotation=90, ha='center', va='top',
         fontsize=13.2, color=text_col)
fig.text(1676/1692, 1 - 555/568, 'Channel', ha='right', va='center', fontsize=13.4, color=text_col)

fig.savefig('out.png', dpi=100)
